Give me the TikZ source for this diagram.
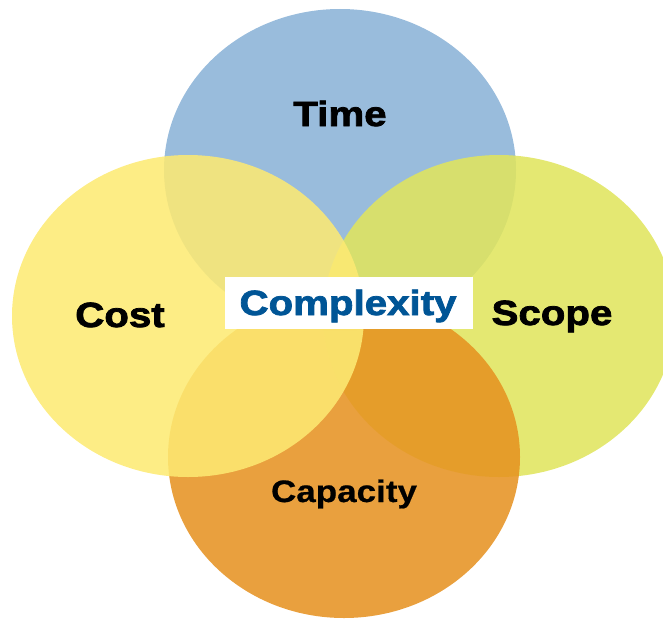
\documentclass[tikz,border=0pt]{standalone}
\usepackage{fontspec}
\setmainfont{Liberation Sans}
\newfontfamily\heavy{Liberation Sans}[FakeStretch=1.15, BoldFeatures={FakeBold=2.2}]
\newfontfamily\capfont{Liberation Sans}[FakeStretch=1.13, BoldFeatures={FakeBold=0.6}]
\usetikzlibrary{shapes.geometric}
\definecolor{timeC}{RGB}{138,178,215}
\definecolor{costC}{RGB}{253,234,115}
\definecolor{scopeC}{RGB}{224,229,93}
\definecolor{capC}{RGB}{230,146,33}
\definecolor{cxBlue}{RGB}{0,85,150}
\tikzset{
  venn/.style={ellipse, minimum width=352pt, minimum height=322pt, inner sep=0pt, fill opacity=0.87, draw=none},
  lbl/.style={anchor=base, inner sep=0pt, text=black, font=\heavy\bfseries\fontsize{35}{40}\selectfont},
}
\begin{document}
\begin{tikzpicture}[x=1pt,y=-1pt]
\useasboundingbox (0,0) rectangle (663,618);
\node[venn, fill=timeC] (timeE) at (340,170) {};
\node[venn, fill=scopeC] (scopeE) at (499,316) {};
\node[venn, fill=capC] (capE) at (344,457) {};
\node[venn, fill=costC] (costE) at (188,316) {};
\node[lbl] (timeL) at (340,126) {Time};
\node[lbl] (costL) at (120,327) {Cost};
\node[lbl] (scopeL) at (552,325) {Scope};
\node[lbl, font=\capfont\bfseries\fontsize{31}{36}\selectfont] (capL) at (344,502) {Capacity};
\node[fill=white, minimum width=248pt, minimum height=52pt, inner sep=0pt] (cxBox) at (349,303) {};
\node[lbl, text=cxBlue] (cxL) at (348,315) {Complexity};
\end{tikzpicture}
\end{document}
